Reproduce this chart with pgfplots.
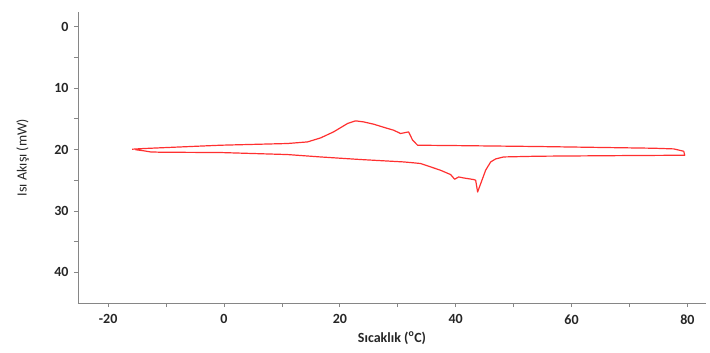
\documentclass[border=0pt]{standalone}
\usepackage{fontspec}
\setmainfont{Carlito}
\usepackage{pgfplots}
\pgfplotsset{compat=1.18}
\definecolor{axgray}{HTML}{868686}
\definecolor{curvered}{HTML}{FF3030}
\begin{document}
\begin{tikzpicture}
\useasboundingbox (-78pt,-50pt) rectangle (632pt,303pt);
\begin{axis}[
  at={(0pt,0pt)}, anchor=south west,
  scale only axis, width=628pt, height=291pt,
  xmin=-25.2, xmax=83.2, ymin=-2.4, ymax=45,
  y dir=reverse,
  axis x line=bottom, axis y line=left,
  axis line style={axgray, line width=0.8pt, -},
  xtick={-20,0,20,40,60,80}, minor xtick={-10,10,30,50,70},
  ytick={0,10,20,30,40}, minor ytick={5,15,25,35},
  tick align=outside,
  major tick length=4pt, minor tick length=4pt,
  tick style={axgray, line width=0.8pt},
  ticklabel style={font=\fontsize{14}{16}\selectfont\bfseries, text=black!85},
  xticklabel style={yshift=-4pt},
  yticklabel style={xshift=-2pt},
  /pgf/number format/assume math mode=true,
  xlabel={\textbf{Sıcaklık (\textsuperscript{o}C)}},
  ylabel={Isı Akışı (mW)},
  label style={font=\fontsize{14}{16}\selectfont, text=black!85},
  xlabel style={at={(axis description cs:0.5,0)}, anchor=center, yshift=-35pt},
  ylabel style={at={(axis description cs:-0.088,0.5)}, anchor=center, rotate=0},
  clip=false,
]
\addplot[curvered, line width=1.2pt, line join=round] coordinates {
(-15.85,19.95) (-13.9,19.84) (-0.6,19.30) (10.97,19.02) (14.42,18.76) (16.67,18.11)
(18.91,17.13) (21.33,15.76) (22.71,15.33) (24.09,15.50) (25.82,15.87) (28.24,16.57)
(29.27,16.85) (30.48,17.39) (31.35,17.23) (31.87,17.13) (32.56,18.48) (33.42,19.30)
(39.12,19.35) (54.15,19.51) (65.54,19.67) (74.18,19.79) (77.63,19.90) (79.36,20.28)
(79.53,20.93)
(70.21,20.98) (54.15,21.09) (48.27,21.21) (46.89,21.53) (46.03,22.02) (45.16,23.38)
(43.78,26.92) (43.44,25.01) (43.09,24.89) (41.36,24.63) (40.50,24.47) (39.81,24.84)
(39.12,24.08) (37.39,23.38) (33.94,22.28) (32.21,22.12) (31.0,22.02) (23.58,21.63)
(16.67,21.21) (10.97,20.82) (-0.6,20.49) (-10.97,20.44) (-12.69,20.39) (-13.9,20.2)
(-15.3,20.03)
};
\end{axis}
\end{tikzpicture}
\end{document}
